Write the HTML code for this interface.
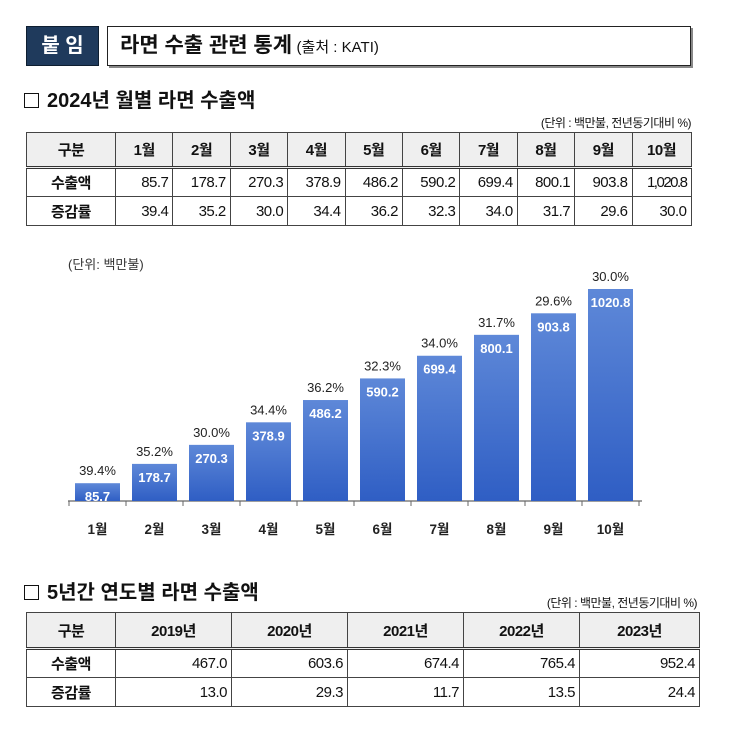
<!DOCTYPE html>
<html><head><meta charset="utf-8">
<style>
*{margin:0;padding:0;box-sizing:border-box}
body{width:743px;height:730px;background:#fff;position:relative;font-family:"Liberation Sans","Noto Sans CJK KR",sans-serif;color:#111;overflow:hidden}
.abs{position:absolute}
table{border-collapse:collapse;position:absolute;table-layout:fixed}
td{border:1px solid #444;text-align:right;padding-right:4px;font-size:15px;letter-spacing:-0.5px}
td.h{background:#efefef;text-align:center;font-weight:bold;padding:0}
tr.hd td{border-bottom:3px double #333}
td.l{text-align:center;font-weight:bold;padding:0}
.unit{font-size:12px;letter-spacing:-0.5px}
.sec{font-size:20px;font-weight:bold;letter-spacing:0px}
.sq{display:inline-block;width:15px;height:15px;border:1.5px solid #111;margin-right:8px;vertical-align:-1px}
</style></head><body>
<div class="abs" style="left:26px;top:26px;width:73px;height:40px;background:#1f3a5c;border:1px solid #0e1e30;color:#fff;font-weight:bold;font-size:20px;text-align:center;line-height:38px">붙 임</div>
<div class="abs" style="left:107px;top:26px;width:584px;height:40px;border:1.5px solid #222;box-shadow:2px 2px 0 #888;padding-left:12px;line-height:37px"><span style="font-size:21px;font-weight:bold">라면 수출 관련 통계</span> <span style="font-size:15px">(출처 : KATI)</span></div>
<div class="abs sec" style="left:24px;top:84px"><span class="sq"></span>2024년 월별 라면 수출액</div>
<div class="abs unit" style="right:52px;top:114px">(단위 : 백만불, 전년동기대비 %)</div>
<table style="left:26px;top:132px;width:665px">
<colgroup><col style="width:89px"><col span="9" style="width:57.4px"><col style="width:59px"></colgroup>
<tr class="hd" style="height:35px"><td class="h">구분</td><td class="h">1월</td><td class="h">2월</td><td class="h">3월</td><td class="h">4월</td><td class="h">5월</td><td class="h">6월</td><td class="h">7월</td><td class="h">8월</td><td class="h">9월</td><td class="h">10월</td></tr>
<tr style="height:29px"><td class="l">수출액</td><td>85.7</td><td>178.7</td><td>270.3</td><td>378.9</td><td>486.2</td><td>590.2</td><td>699.4</td><td>800.1</td><td>903.8</td><td style="letter-spacing:-1.5px">1,020.8</td></tr>
<tr style="height:29px"><td class="l">증감률</td><td>39.4</td><td>35.2</td><td>30.0</td><td>34.4</td><td>36.2</td><td>32.3</td><td>34.0</td><td>31.7</td><td>29.6</td><td>30.0</td></tr>
</table>

<svg class="abs" style="left:0;top:250px" width="743" height="300">
<defs><linearGradient id="g" x1="0" y1="0" x2="0" y2="1"><stop offset="0" stop-color="#5e88d8"/><stop offset="1" stop-color="#2f5ec4"/></linearGradient></defs>
<text x="68" y="19" font-size="13" fill="#333">(단위: 백만불)</text>
<g id="bars"></g>
</svg>
<script>
const months=['1월','2월','3월','4월','5월','6월','7월','8월','9월','10월'];
const exports=[85.7,178.7,270.3,378.9,486.2,590.2,699.4,800.1,903.8,1020.8];
const growth=['39.4%','35.2%','30.0%','34.4%','36.2%','32.3%','34.0%','31.7%','29.6%','30.0%'];
const NS='http://www.w3.org/2000/svg';
const g=document.getElementById('bars');
const baseY=251, x0=75, pitch=57, bw=45, k=212/1020.8;
function xs(i){return x0+i*pitch;}
function ys(v){return baseY-v*k;}
function mk(t,a){const e=document.createElementNS(NS,t);for(const n in a)e.setAttribute(n,a[n]);g.appendChild(e);return e;}
const ax=mk('line',{x1:68,y1:baseY,x2:642,y2:baseY,stroke:'#666','stroke-width':1.2});


for(let i=0;i<=10;i++){const t=mk('line',{x1:xs(i)-6,y1:baseY,x2:xs(i)-6,y2:baseY+5,stroke:'#666'});

}
months.forEach((m,i)=>{
 const v=exports[i],x=xs(i),y=ys(v);
 const r=mk('rect',{x:x,y:y,width:bw,height:baseY-y,fill:'url(#g)'});
 
 
 const vl=mk('text',{x:x+bw/2,y:y+18,'text-anchor':'middle','font-size':13,'font-weight':'bold',fill:'#fff'});
 vl.textContent=String(v);
 
 
 const gl=mk('text',{x:x+bw/2,y:y-8,'text-anchor':'middle','font-size':13,fill:'#222'});
 gl.textContent=growth[i];
 
 
 const ml=mk('text',{x:x+bw/2,y:baseY+33,'text-anchor':'middle','font-size':13.5,'font-weight':'bold',fill:'#222'});
 ml.textContent=m;
 
 
});
</script>

<div class="abs sec" style="left:24px;top:576px"><span class="sq"></span>5년간 연도별 라면 수출액</div>
<div class="abs unit" style="right:46px;top:594px">(단위 : 백만불, 전년동기대비 %)</div>
<table style="left:26px;top:612px;width:673px">
<colgroup><col style="width:89px"><col span="4" style="width:116px"><col style="width:120px"></colgroup>
<tr class="hd" style="height:36px"><td class="h">구분</td><td class="h">2019년</td><td class="h">2020년</td><td class="h">2021년</td><td class="h">2022년</td><td class="h">2023년</td></tr>
<tr style="height:29px"><td class="l">수출액</td><td>467.0</td><td>603.6</td><td>674.4</td><td>765.4</td><td>952.4</td></tr>
<tr style="height:29px"><td class="l">증감률</td><td>13.0</td><td>29.3</td><td>11.7</td><td>13.5</td><td>24.4</td></tr>
</table>
</body></html>
